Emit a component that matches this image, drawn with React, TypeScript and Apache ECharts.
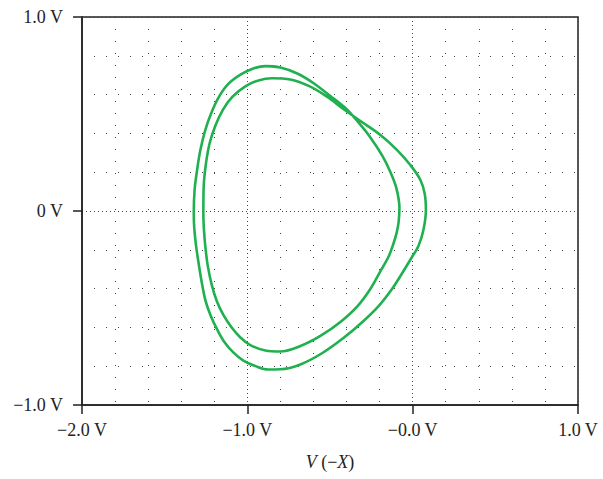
import React, { useEffect, useRef } from "react";
import * as echarts from "echarts";

// Axis ranges and tick labels
const xMin = -2;
const xMax = 1;
const yMin = -1;
const yMax = 1;
const xTickLabels = ["\u22122.0 V", "\u22121.0 V", "\u22120.0 V", "1.0 V"];
const yTickLabels = ["\u22121.0 V", "0 V", "1.0 V"];

// Period-2 orbit, traced in order: outer top -> inner lap -> outer lap
const orbitX = [
  -0.891, -0.8, -0.698, -0.601, -0.498, -0.407, -0.335, -0.262, -0.183, -0.135,
  -0.099, -0.08, -0.085, -0.097, -0.115, -0.144, -0.194, -0.256, -0.336, -0.437,
  -0.558, -0.679, -0.8, -0.891, -0.982, -1.042, -1.097, -1.145, -1.185, -1.215,
  -1.239, -1.254, -1.263, -1.266, -1.264, -1.25, -1.228, -1.194, -1.148, -1.091,
  -1.012, -0.933, -0.851, -0.74, -0.619, -0.518, -0.419, -0.316, -0.195, -0.094,
  -0.014, 0.047, 0.073, 0.08, 0.065, 0.035, -0.004, -0.064, -0.125, -0.206,
  -0.304, -0.419, -0.546, -0.679, -0.8, -0.873, -0.952, -1.024, -1.085, -1.139,
  -1.181, -1.221, -1.254, -1.275, -1.293, -1.309, -1.321, -1.324, -1.319, -1.304,
  -1.284, -1.254, -1.218, -1.172, -1.115, -1.039, -0.964,
];
const orbitY = [
  0.747, 0.74, 0.709, 0.66, 0.593, 0.531, 0.464, 0.387, 0.284, 0.201,
  0.119, 0.015, -0.057, -0.113, -0.165, -0.232, -0.309, -0.402, -0.493, -0.572,
  -0.644, -0.696, -0.724, -0.719, -0.691, -0.652, -0.598, -0.536, -0.464, -0.381,
  -0.284, -0.184, -0.088, -0.01, 0.125, 0.246, 0.349, 0.438, 0.521, 0.588,
  0.642, 0.673, 0.684, 0.678, 0.641, 0.589, 0.526, 0.464, 0.392, 0.314,
  0.237, 0.16, 0.088, 0.005, -0.098, -0.18, -0.237, -0.321, -0.402, -0.49,
  -0.572, -0.655, -0.732, -0.791, -0.816, -0.817, -0.799, -0.771, -0.729, -0.675,
  -0.613, -0.541, -0.459, -0.371, -0.278, -0.186, -0.088, -0.01, 0.108, 0.211,
  0.314, 0.418, 0.505, 0.588, 0.655, 0.704, 0.735,
];

const FONT = "'Liberation Serif', 'DejaVu Serif', serif";

export default function App() {
  const ref = useRef<HTMLDivElement>(null);

  useEffect(() => {
    document.body.style.margin = "0";
    if (!ref.current) return;
    const chart = echarts.init(ref.current, undefined, { renderer: "svg" });

    const pts = orbitX.map((x, i) => [x, orbitY[i]]);
    const n = pts.length;
    // wrap around so the closed loop joins smoothly
    const data = [pts[n - 1], ...pts, pts[0], pts[1]];

    const majorGrid = { show: true, lineStyle: { color: "#444", width: 1, type: [1, 3] as any } };
    const minorGrid = { show: true, lineStyle: { color: "#444", width: 1, type: [1, 11] as any } };

    chart.setOption({
      animation: false,
      backgroundColor: "#fff",
      grid: {
        left: 82,
        right: 25,
        top: 17,
        bottom: 74,
        show: true,
        borderColor: "#222",
        borderWidth: 1.5,
        backgroundColor: "transparent",
      },
      xAxis: {
        type: "value",
        min: xMin,
        max: xMax,
        interval: 1,
        axisLine: { show: true, onZero: false, lineStyle: { color: "#222", width: 1.5 } },
        axisTick: { show: true, inside: false, length: 9, lineStyle: { color: "#222", width: 1.5 } },
        minorTick: { show: false, splitNumber: 5 },
        splitLine: majorGrid,
        minorSplitLine: minorGrid,
        axisLabel: {
          margin: 16,
          color: "#222",
          fontFamily: FONT,
          fontSize: 18,
          formatter: (v: number) => xTickLabels[Math.round(v - xMin)] ?? "",
        },
        name: "{i|V} (\u2212{i|X})",
        nameLocation: "middle",
        nameGap: 48,
        nameTextStyle: {
          color: "#222",
          fontFamily: FONT,
          fontSize: 18,
          rich: { i: { fontStyle: "italic", fontFamily: FONT, fontSize: 18, color: "#222" } },
        },
      },
      yAxis: {
        type: "value",
        min: yMin,
        max: yMax,
        interval: 1,
        axisLine: { show: true, onZero: false, lineStyle: { color: "#222", width: 1.5 } },
        axisTick: { show: true, inside: false, length: 9, lineStyle: { color: "#222", width: 1.5 } },
        minorTick: { show: false, splitNumber: 5 },
        splitLine: majorGrid,
        minorSplitLine: minorGrid,
        axisLabel: {
          margin: 19,
          color: "#222",
          fontFamily: FONT,
          fontSize: 18,
          formatter: (v: number) => yTickLabels[Math.round(v - yMin)] ?? "",
        },
      },
      series: [
        {
          type: "line",
          data,
          smooth: 0.35,
          showSymbol: false,
          symbol: "none",
          lineStyle: { color: "#1fb14f", width: 2.6 },
          z: 5,
        },
      ],
    });

    return () => chart.dispose();
  }, []);

  return <div ref={ref} style={{ width: 603, height: 479 }} />;
}
